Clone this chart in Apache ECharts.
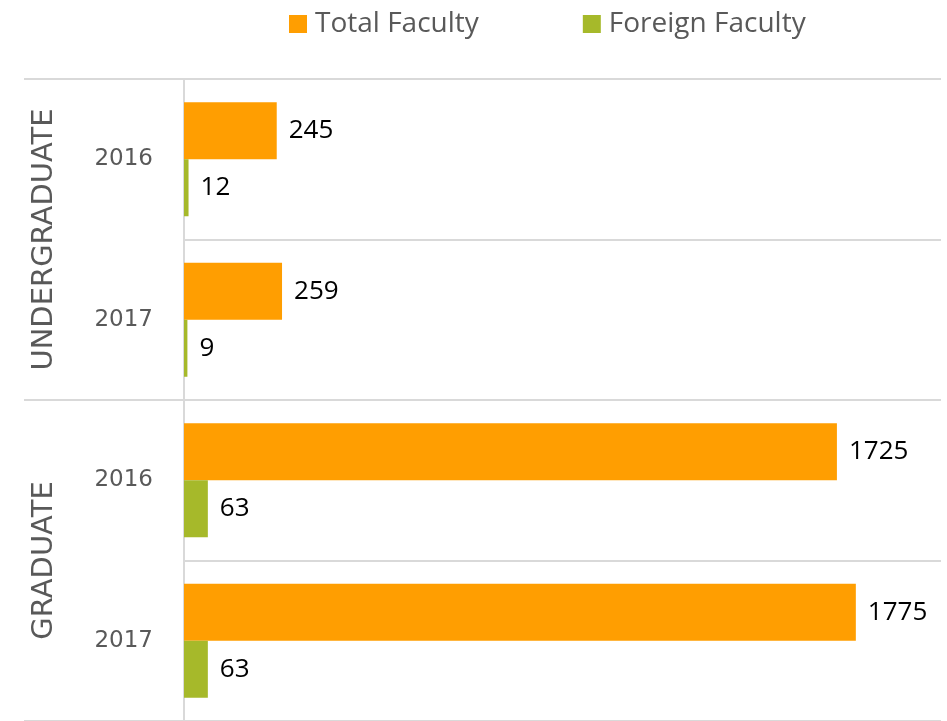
<!DOCTYPE html>
<html>
<head>
<meta charset="utf-8">
<script src="https://cdn.jsdelivr.net/npm/echarts@6/dist/echarts.min.js"></script>
<style>
html,body{margin:0;padding:0;background:#fff;}
#chart{width:947px;height:721px;}
</style>
</head>
<body>
<div id="chart"></div>
<script>
const years = ['2016', '2017', '2016', '2017'];
const groups = ['UNDERGRADUATE', 'GRADUATE'];
const seriesNames = ['Total Faculty', 'Foreign Faculty'];
const totalFaculty = [245, 259, 1725, 1775];
const foreignFaculty = [12, 9, 63, 63];

const chart = echarts.init(document.getElementById('chart'));
const gray = '#d9d9d9';
chart.setOption({
  animation: false,
  backgroundColor: '#ffffff',
  legend: {
    left: 284,
    top: 5,
    itemWidth: 18,
    itemGap: 104,
    itemHeight: 18,
    icon: 'rect',
    data: seriesNames,
    textStyle: { fontFamily: 'Open Sans', fontSize: 28, color: '#595959', padding: [0, 0, 0, 3] }
  },
  grid: { left: 184, right: 6, top: 79, height: 645, containLabel: false },
  xAxis: {
    type: 'value', min: 0, max: 2000,
    axisLine: { show: false }, axisTick: { show: false },
    axisLabel: { show: false }, splitLine: { show: false }
  },
  yAxis: [
    {
      type: 'category', data: years, inverse: true,
      axisLine: { show: true, lineStyle: { color: gray, width: 2 } },
      axisTick: { show: false },
      splitLine: { show: true, interval: 0, lineStyle: { color: gray, width: 2 } },
      axisLabel: { interval: 0, margin: 31, fontFamily: 'DejaVu Sans', fontSize: 23, color: '#595959' }
    },
    {
      type: 'category', data: groups, inverse: true, position: 'left',
      axisLine: { show: false },
      axisTick: { show: true, interval: 0, length: 160, lineStyle: { color: gray, width: 2 } },
      splitLine: { show: false },
      axisLabel: { interval: 0, rotate: 90, margin: 125, fontFamily: 'DejaVu Sans', fontSize: 29, color: '#595959' }
    }
  ],
  series: [
    {
      name: seriesNames[0], type: 'bar', yAxisIndex: 0, data: totalFaculty,
      barWidth: 57, barGap: '0%',
      itemStyle: { color: '#ff9e01' },
      label: { show: true, position: 'right', distance: 12, color: '#000', fontFamily: 'Open Sans', fontSize: 26 }
    },
    {
      name: seriesNames[1], type: 'bar', yAxisIndex: 0, data: foreignFaculty,
      barWidth: 57, barGap: '0%',
      itemStyle: { color: '#a6b92a' },
      label: { show: true, position: 'right', distance: 12, color: '#000', fontFamily: 'Open Sans', fontSize: 26 }
    }
  ]
});
</script>
</body>
</html>
